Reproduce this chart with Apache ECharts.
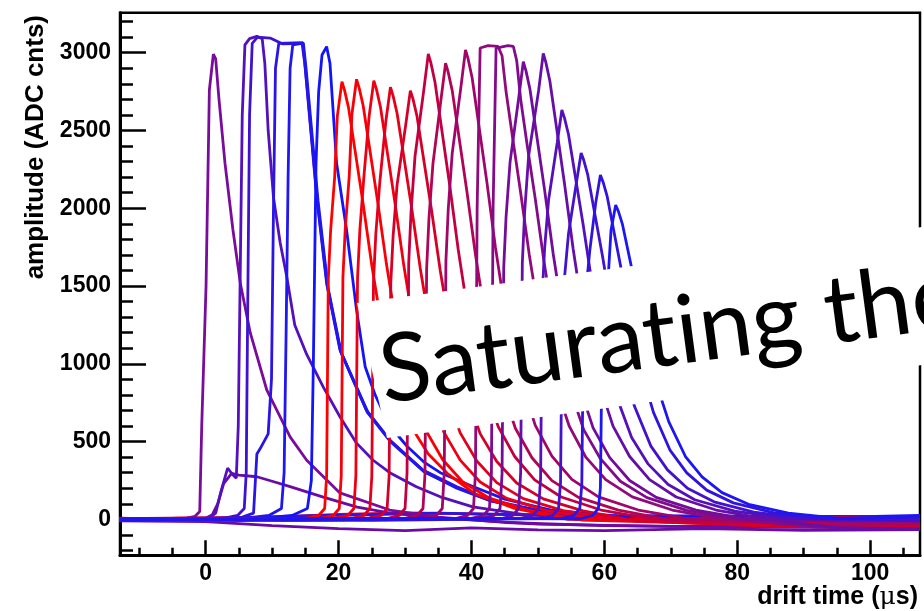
<!DOCTYPE html>
<html><head><meta charset="utf-8">
<script src="https://cdn.jsdelivr.net/npm/echarts@6/dist/echarts.min.js"></script>
<style>html,body{margin:0;padding:0;background:#fff}#c{width:924px;height:611px}</style>
</head><body><div id="c"></div>
<script>
// tick values
const xMajorTicks = [0, 20, 40, 60, 80, 100];
const xMinorTicks = [-10, -5, 5, 10, 15, 25, 30, 35, 45, 50, 55, 65, 70, 75, 85, 90, 95, 105];
const yMajorTicks = [0, 500, 1000, 1500, 2000, 2500, 3000];
const yMinorTicks = [-200, -100, 100, 200, 300, 400, 600, 700, 800, 900, 1100, 1200, 1300, 1400, 1600, 1700, 1800, 1900, 2100, 2200, 2300, 2400, 2600, 2700, 2800, 2900, 3100, 3200];

// waveforms: [drift time (us), amplitude (ADC cnts)]
const wfF1 = [[-13,-10],[0,-15],[10,-40],[20,-60],[30,-72],[40,-55],[50,-68],[60,-72],[75,-60],[90,-70],[107.5,-65]];
const wfF2 = [[-13,5],[10,15],[20,32],[30,42],[40,35],[55,22],[70,12],[90,2],[107.5,-3]];
const wfF3 = [[-13,-5],[5,10],[15,22],[25,30],[35,40],[45,32],[60,26],[80,20],[107.5,18]];
const wfE1 = [[-13,3],[-8,-5],[-3,6],[-1.6,20],[-0.9,50],[-0.6,600],[0.05,1500],[0.55,2760],[1.15,2990],[1.5,2960],[2.0,2700],[2.9,2290],[4.1,1860],[5.2,1520],[6.7,1200],[9.2,830],[12.7,530],[15.2,380],[20.2,170],[27.7,60],[35,15],[45,-20],[60,-40],[80,-50],[107.5,-55]];
const wfSP = [[-13,-2],[-6,5],[0,8],[1.0,30],[1.8,100],[2.7,230],[3.9,296],[5.0,285],[7.7,274],[10,245],[12.7,210],[17.7,143],[22.8,79],[27.8,40],[35,10],[50,-30],[70,-45],[107.5,-40]];
const wfS1 = [[-13,5],[-5,-4],[0.5,8],[1.5,40],[2.3,180],[3.3,330],[4.0,290],[4.6,265],[4.9,600],[5.2,1600],[5.5,2600],[5.9,3050],[6.6,3090],[7.7,3105],[8.5,3090],[8.9,2930],[9.4,2500],[10.2,2070],[11.2,1780],[12.2,1560],[13.4,1250],[15.2,1060],[17.7,850],[20.2,660],[22.7,490],[25.2,380],[27.7,300],[31.7,210],[35.3,145],[40.2,80],[48,30],[58,5],[75,-10],[107.5,-5]];
const wfS2 = [[-13,-4],[-4,6],[3,10],[4.8,25],[5.8,70],[6.1,300],[6.35,1500],[6.6,2600],[7.0,3060],[7.8,3100],[9.7,3094],[11.6,3056],[14.5,3060],[14.9,2934],[16.7,2074],[18.2,1517],[20.2,1090],[24.2,700],[27.7,510],[32.7,317],[37.8,210],[42.8,124],[50,60],[60,20],[75,-20],[107.5,-30]];
const wfS3 = [[-13,2],[-7,-6],[2,6],[5.5,15],[7.2,40],[7.7,420],[8.2,455],[9.4,550],[9.9,900],[10.2,2000],[10.5,2900],[11.0,3060],[14.6,3065],[15.0,2900],[16.8,2050],[18.3,1500],[20.3,1080],[24.3,690],[27.8,500],[32.8,310],[37.8,200],[42.8,120],[50,55],[60,18],[75,5],[107.5,10]];
const wfS4 = [[-13,-6],[-3,4],[6,8],[9.5,25],[11.4,70],[11.8,300],[12.1,1200],[12.4,2200],[12.7,2900],[13.1,3050],[14.7,3062],[15.1,2900],[16.9,2050],[18.4,1490],[20.4,1070],[24.4,690],[27.9,500],[32.9,305],[38,200],[43,118],[50,55],[60,18],[80,0],[107.5,25]];
const wfS5 = [[-13,4],[-5,-5],[8,6],[13,25],[15.3,70],[15.9,250],[16.2,1000],[16.6,2290],[17.0,2750],[17.5,2985],[18.2,3039],[18.7,2932],[19.7,2289],[21.2,1860],[22.2,1517],[22.7,1346],[24,981],[25.5,800],[27.7,600],[30.3,470],[32.8,370],[35.3,300],[40.3,210],[45,130],[52,60],[62,20],[80,5],[107.5,15]];
const wfR1 = [[-13,4],[-6,-6],[15.2,8],[17.0,25],[17.9,70],[18.2,281],[18.45,1548],[18.8,1857],[19.4,2195],[19.8,2589],[20.5,2814],[20.9,2758],[21.5,2645],[22.5,2364],[23.7,2026],[25.0,1632],[26.5,1238],[28.5,900],[31.0,590],[33.5,420],[36.5,290],[40.5,165],[46.5,70],[54.5,0],[70,-15],[107.5,-15]];
const wfR2 = [[-13,-5],[-4,8],[17.4,6],[19.2,25],[20.1,70],[20.4,283],[20.65,1556],[21.0,1867],[21.6,2207],[22.0,2603],[22.7,2829],[23.1,2772],[23.7,2659],[24.7,2376],[25.9,2037],[27.2,1641],[28.7,1245],[30.7,877],[33.2,566],[35.7,382],[38.7,240],[42.7,136],[48.7,57],[56.7,-5],[75,-25],[107.5,-30]];
const wfR3 = [[-13,6],[-3,-4],[19.6,10],[21.4,25],[22.3,70],[22.6,282],[22.85,1551],[23.2,1861],[23.8,2200],[24.6,2594],[25.3,2820],[25.7,2764],[26.3,2651],[27.3,2369],[28.5,2030],[29.8,1636],[31.3,1241],[33.3,874],[35.8,564],[38.3,381],[41.3,240],[45.3,135],[51.3,56],[59.3,0],[80,-15],[107.5,-20]];
const wfR4 = [[-13,-3],[-2,6],[22,5],[23.8,25],[24.7,70],[25.0,278],[25.25,1528],[25.6,1833],[26.2,2167],[27.1,2556],[27.8,2778],[28.2,2722],[28.8,2611],[29.8,2334],[31.0,2000],[32.3,1611],[33.8,1222],[35.8,861],[38.3,556],[40.8,375],[43.8,236],[47.8,133],[53.8,56],[61.8,0],[85,8],[107.5,5]];
const wfR5 = [[-13,8],[0,-5],[24.6,10],[26.4,25],[27.3,70],[27.6,276],[27.85,1516],[28.2,1819],[28.8,2150],[30.1,2536],[30.8,2756],[31.2,2701],[31.8,2591],[32.8,2315],[34.0,1984],[35.3,1598],[36.8,1213],[38.8,854],[41.3,551],[43.8,372],[46.8,234],[50.8,132],[56.8,55],[64.8,-10],[85,-45],[107.5,-50]];
const wfM1 = [[-13,-4],[2,7],[27.3,5],[29.1,25],[30.0,70],[30.3,299],[30.55,1646],[30.9,1975],[31.5,2334],[32.8,2753],[33.5,2992],[33.9,2932],[34.5,2812],[35.5,2513],[36.7,2154],[38.0,1735],[39.5,1316],[41.5,928],[44.0,598],[46.5,404],[49.5,254],[53.5,144],[59.5,60],[67.5,0],[90,12],[107.5,10]];
const wfM2 = [[-13,3],[5,-8],[30,6],[31.8,25],[32.7,70],[33.0,293],[33.25,1613],[33.6,1935],[34.2,2287],[35.4,2697],[36.1,2932],[36.5,2873],[37.1,2756],[38.1,2463],[39.3,2111],[40.6,1701],[42.1,1290],[44.1,909],[46.6,586],[49.1,396],[52.1,249],[56.1,141],[62.1,59],[70.1,-5],[90,-30],[107.5,-35]];
const wfM3 = [[-13,-6],[8,5],[32.9,8],[34.7,25],[35.6,70],[35.9,302],[36.15,1660],[36.5,1992],[37.1,2354],[38.4,2777],[39.1,3018],[39.5,2958],[40.1,2837],[41.1,2535],[42.3,2173],[43.6,1750],[45.1,1328],[47.1,936],[49.6,604],[52.1,407],[55.1,257],[59.1,145],[65.1,60],[73.1,0],[90,10],[107.5,15]];
const wfP1 = [[-13,-4],[10,6],[37.6,5],[39.4,25],[40.3,70],[40.6,300],[40.85,2000],[41.3,3030],[42.5,3045],[44.0,3040],[44.6,2980],[45.2,2750],[46.2,2450],[47.4,2100],[48.7,1700],[50.2,1300],[52.2,920],[54.7,600],[57.2,400],[60.2,255],[64.2,145],[70.2,60],[78,0],[95,-15],[107.5,-20]];
const wfP2 = [[-13,2],[14,-5],[40,6],[41.8,25],[42.7,70],[43.0,300],[43.25,2000],[43.7,3030],[45.5,3045],[46.3,3040],[46.8,2950],[47.4,2700],[48.4,2400],[49.6,2060],[50.9,1660],[52.4,1260],[54.4,890],[56.9,575],[59.4,390],[62.4,245],[66.4,140],[72.4,58],[80,0],[92,-50],[107.5,-60]];
const wfP3 = [[-13,5],[12,-6],[41.6,8],[43.4,25],[44.3,70],[44.6,294],[44.85,1618],[45.2,1942],[45.8,2295],[47.1,2707],[47.8,2942],[48.2,2883],[48.8,2765],[49.8,2471],[51.0,2118],[52.3,1706],[53.8,1294],[55.8,912],[58.3,588],[60.8,397],[63.8,250],[67.8,141],[73.8,59],[81.8,0],[95,-8],[107.5,-5]];
const wfP4 = [[-13,-2],[15,6],[44.4,4],[46.2,25],[47.1,70],[47.4,300],[47.65,1648],[48.0,1977],[48.6,2337],[50.1,2756],[50.8,2996],[51.2,2936],[51.8,2816],[52.8,2517],[54.0,2157],[55.3,1738],[56.8,1318],[58.8,929],[61.3,599],[63.8,404],[66.8,255],[70.8,144],[76.8,60],[84.8,0],[95,-55],[107.5,-65]];
const wfB1 = [[-13,7],[18,-4],[47.4,6],[49.2,25],[50.1,70],[50.4,263],[50.65,1448],[51.0,1737],[51.6,2053],[52.9,2421],[53.6,2632],[54.0,2579],[54.6,2474],[55.6,2211],[56.8,1895],[58.1,1527],[59.6,1158],[61.6,816],[64.1,526],[66.6,355],[69.6,224],[73.6,126],[79.6,53],[87.6,5],[107.5,10]];
const wfB2 = [[-13,-6],[20,5],[50.4,5],[52.2,25],[53.1,70],[53.4,236],[53.65,1295],[54.0,1554],[54.6,1837],[55.8,2167],[56.5,2355],[56.9,2308],[57.5,2214],[58.5,1978],[59.7,1696],[61.0,1366],[62.5,1036],[64.5,730],[67.0,471],[69.5,318],[72.5,200],[76.5,113],[82.5,47],[90.5,5],[107.5,-10]];
const wfB3 = [[-13,4],[25,-7],[53.6,7],[55.4,25],[56.3,70],[56.6,221],[56.85,1217],[57.2,1461],[57.8,1726],[58.7,2036],[59.4,2213],[59.8,2169],[60.4,2080],[61.4,1859],[62.6,1593],[63.9,1284],[65.4,974],[67.4,686],[69.9,443],[72.4,299],[75.4,188],[79.4,106],[85.4,44],[93.4,5],[107.5,15]];
const wfB4 = [[-13,-3],[30,6],[56.4,4],[58.2,25],[59.1,70],[59.4,202],[59.65,1112],[60.0,1334],[60.6,1576],[61.0,1859],[61.7,2021],[62.1,1981],[62.7,1900],[63.7,1698],[64.9,1455],[66.2,1172],[67.7,889],[69.7,627],[72.2,404],[74.7,273],[77.7,172],[81.7,97],[87.7,40],[95.7,5],[107.5,20]];

const traces = [wfF1, wfF2, wfF3, wfE1, wfSP, wfS1, wfS2, wfS3, wfS4, wfS5, wfR1, wfR2, wfR3, wfR4, wfR5, wfM1, wfM2, wfM3, wfP1, wfP2, wfP3, wfP4, wfB1, wfB2, wfB3, wfB4];
const traceColors = ['#6a0aa8','#c8003a','#2a14e6','#7a0c9c','#6c0aa6','#5410bc','#3e12d0','#2a14e6','#2016f0','#1414fa','#ff0000','#f70008','#ee0012','#e2001c','#d50028','#c20040','#b00456','#a0066a','#900a7c','#820b8c','#740c9a','#660ea8','#5410ba','#4212cc','#3014de','#1e16f2'];

const X_MIN = -12.9, X_MAX = 107.5, Y_MIN = -231, Y_MAX = 3257;
const tickFont = {fontFamily:'Liberation Sans', fontWeight:'bold', fontSize:23, color:'#000'};

const chart = echarts.init(document.getElementById('c'), null, {renderer:'canvas'});
chart.setOption({
  animation:false,
  backgroundColor:'#fff',
  grid:{left:120, right:4, top:12.7, bottom:55.7, containLabel:false, outerBoundsMode:'none', show:true, borderColor:'#000', borderWidth:2.5, backgroundColor:'transparent'},
  xAxis:[
    {type:'value', min:X_MIN, max:X_MAX, position:'bottom',
     axisLine:{show:true, onZero:false, lineStyle:{color:'#000', width:3}},
     axisTick:{show:true, inside:true, length:15, customValues:xMajorTicks, lineStyle:{color:'#000', width:2.5}},
     axisLabel:Object.assign({show:true, margin:7, customValues:xMajorTicks, formatter:v => String(v)}, tickFont),
     splitLine:{show:false}},
    {type:'value', min:X_MIN, max:X_MAX, position:'bottom',
     axisLine:{show:false, onZero:false},
     axisTick:{show:true, inside:true, length:7.5, customValues:xMinorTicks, lineStyle:{color:'#000', width:2.5}},
     axisLabel:{show:false}, splitLine:{show:false}}
  ],
  yAxis:[
    {type:'value', min:Y_MIN, max:Y_MAX, position:'left',
     axisLine:{show:true, onZero:false, lineStyle:{color:'#000', width:3}},
     axisTick:{show:true, inside:true, length:26, customValues:yMajorTicks, lineStyle:{color:'#000', width:2.5}},
     axisLabel:Object.assign({show:true, margin:9, customValues:yMajorTicks, formatter:v => String(v)}, tickFont),
     splitLine:{show:false}},
    {type:'value', min:Y_MIN, max:Y_MAX, position:'left',
     axisLine:{show:false, onZero:false},
     axisTick:{show:true, inside:true, length:13, customValues:yMinorTicks, lineStyle:{color:'#000', width:2.5}},
     axisLabel:{show:false}, splitLine:{show:false}}
  ],
  series: traces.map((d, i) => ({
    type:'line', data:d, xAxisIndex:0, yAxisIndex:0,
    showSymbol:false, symbol:'none', clip:true, silent:true,
    lineStyle:{color:traceColors[i], width:2.8, opacity:1},
    z:2
  })),
  graphic:[
    {type:'polygon', z:100, shape:{points:[[357,303],[945,224],[945,362],[387,438]]}, style:{fill:'#fff'}},
    {type:'text', z:101, x:380, y:373, rotation:0.133,
     style:{text:'Saturat\u200Cing the', font:'normal 95px Lato', fill:'#000', align:'left', verticalAlign:'middle'}},
    {type:'text', z:101, x:36, y:15, rotation:Math.PI/2,
     style:{text:'amplitude (ADC cnts)', font:'bold 26px "Liberation Sans"', fill:'#000', align:'right', verticalAlign:'middle'}},
    {type:'text', z:101, x:918, y:597,
     style:{text:'{a|drift time (}{m|μ}{a|s)}', align:'right', verticalAlign:'middle', fill:'#000',
       rich:{a:{font:'bold 25px "Liberation Sans"', fill:'#000'}, m:{font:'normal 25px "DejaVu Serif"', fill:'#000'}}}}
  ]
});
</script></body></html>
